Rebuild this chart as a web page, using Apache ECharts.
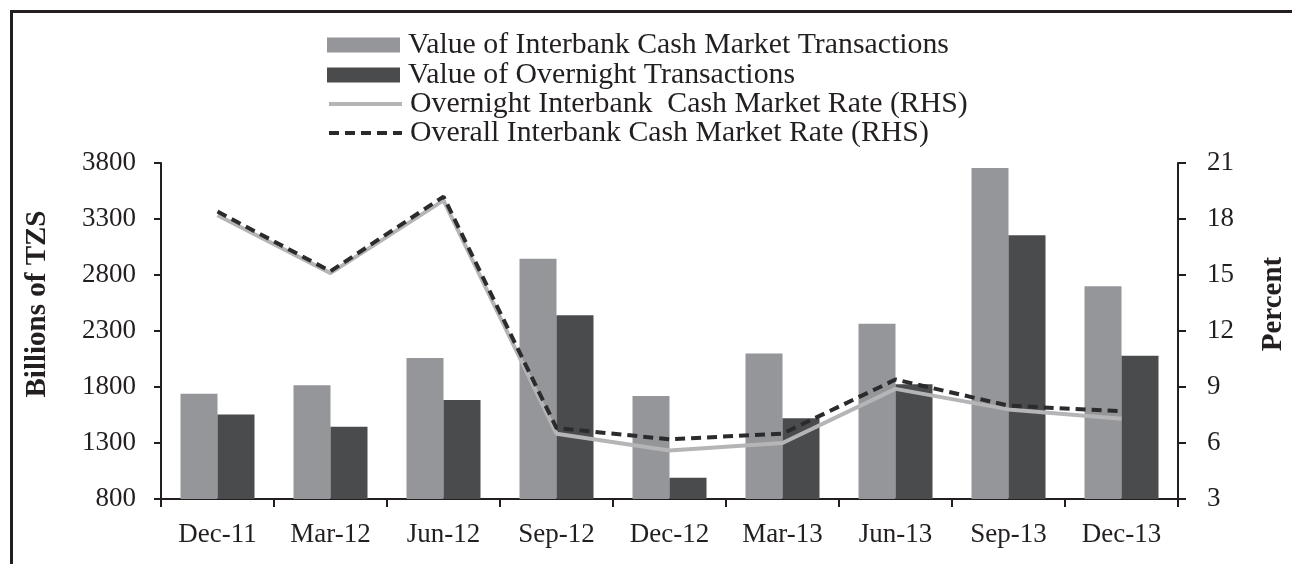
<!DOCTYPE html>
<html>
<head>
<meta charset="utf-8">
<script src="https://cdn.jsdelivr.net/npm/echarts@6/dist/echarts.min.js"></script>
<style>
  html, body { margin: 0; padding: 0; background: #fff; }
  #main { width: 1292px; height: 564px; }
</style>
</head>
<body>
<div id="main"></div>
<script>
/* interbank cash market chart */
var categories = ['Dec-11','Mar-12','Jun-12','Sep-12','Dec-12','Mar-13','Jun-13','Sep-13','Dec-13'];
var interbankValue = [1740, 1815, 2060, 2945, 1720, 2100, 2365, 3755, 2700];
var overnightValue = [1555, 1445, 1685, 2440, 990, 1520, 1825, 3155, 2080];
var overnightRate = [18.2, 15.1, 19.0, 6.5, 5.6, 6.0, 8.9, 7.8, 7.3];
var overallRate = [18.4, 15.2, 19.2, 6.8, 6.2, 6.5, 9.4, 8.0, 7.7];
var leftTicks = [800, 3800, 500];   // min, max, step
var rightTicks = [3, 21, 3];

var names = [
    'Value of Interbank Cash Market Transactions',
    'Value of Overnight Transactions',
    'Overnight Interbank  Cash Market Rate (RHS)',
    'Overall Interbank Cash Market Rate (RHS)'
];

var font = 'Liberation Serif';
var tops = [30, 60, 89, 118];

function legendRow(i) {
    var l = {
        data: [names[i]],
        orient: 'vertical',
        left: 327,
        top: tops[i],
        padding: 0,
        itemWidth: 73,
        itemHeight: 15,
        selectedMode: false,
        textStyle: { fontFamily: font, fontSize: 29.8, color: '#231f20', padding: [0, 0, 0, 3] }
    };
    if (i < 2) {
        l.icon = 'rect';
    } else {
        l.itemStyle = { opacity: 0 };
        l.lineStyle = { width: 4 };
    }
    return l;
}

var chart = echarts.init(document.getElementById('main'));
chart.setOption({
    animation: false,
    backgroundColor: '#fff',
    legend: [legendRow(0), legendRow(1), legendRow(2), legendRow(3)],
    grid: { left: 161, right: 114, top: 163, bottom: 65, outerBoundsMode: 'none', containLabel: false },
    graphic: [{
        type: 'polyline',
        shape: { points: [[11.5, 564], [11.5, 11.5], [1292, 11.5]] },
        style: { stroke: '#231f20', lineWidth: 3, fill: null }
    }],
    xAxis: {
        type: 'category',
        data: categories,
        axisLine: { lineStyle: { color: '#231f20', width: 2 } },
        axisTick: { show: true, length: 8, lineStyle: { color: '#231f20', width: 2 } },
        axisLabel: { fontFamily: font, fontSize: 27, color: '#231f20', margin: 22 },
        splitLine: { show: false }
    },
    yAxis: [
        {
            type: 'value',
            min: leftTicks[0], max: leftTicks[1], interval: leftTicks[2],
            name: 'Billions of TZS',
            nameLocation: 'middle',
            nameGap: 109,
            nameRotate: 90,
            nameTextStyle: { fontFamily: font, fontSize: 29, fontWeight: 'bold', color: '#231f20', padding: [0, 0, 0, 54] },
            axisLine: { show: true, lineStyle: { color: '#231f20', width: 2 } },
            axisTick: { show: true, length: 7, lineStyle: { color: '#231f20', width: 2 } },
            axisLabel: { fontFamily: font, fontSize: 27, color: '#231f20', margin: 25, formatter: function (v) { return String(v); } },
            splitLine: { show: false }
        },
        {
            type: 'value',
            position: 'right',
            min: rightTicks[0], max: rightTicks[1], interval: rightTicks[2],
            name: 'Percent',
            nameLocation: 'middle',
            nameGap: 81,
            nameRotate: 90,
            nameTextStyle: { fontFamily: font, fontSize: 29, fontWeight: 'bold', color: '#231f20', padding: [0, 0, 0, 54] },
            axisLine: { show: true, lineStyle: { color: '#231f20', width: 2 } },
            axisTick: { show: true, length: 8, lineStyle: { color: '#231f20', width: 2 } },
            axisLabel: { fontFamily: font, fontSize: 27, color: '#231f20', margin: 29 },
            splitLine: { show: false }
        }
    ],
    series: [
        {
            name: names[0],
            type: 'bar',
            data: interbankValue,
            barWidth: 37,
            barGap: '0%',
            itemStyle: { color: '#95969a' }
        },
        {
            name: names[1],
            type: 'bar',
            data: overnightValue,
            barWidth: 37,
            barGap: '0%',
            itemStyle: { color: '#4a4b4d' }
        },
        {
            name: names[2],
            type: 'line',
            yAxisIndex: 1,
            data: overnightRate,
            symbol: 'none',
            z: 3,
            lineStyle: { color: '#b5b5b7', width: 4 },
            itemStyle: { color: '#b5b5b7' }
        },
        {
            name: names[3],
            type: 'line',
            yAxisIndex: 1,
            data: overallRate,
            symbol: 'none',
            z: 4,
            lineStyle: { color: '#2b2b2d', width: 4, type: [10, 6] },
            itemStyle: { color: '#2b2b2d' }
        }
    ]
});
</script>
</body>
</html>
